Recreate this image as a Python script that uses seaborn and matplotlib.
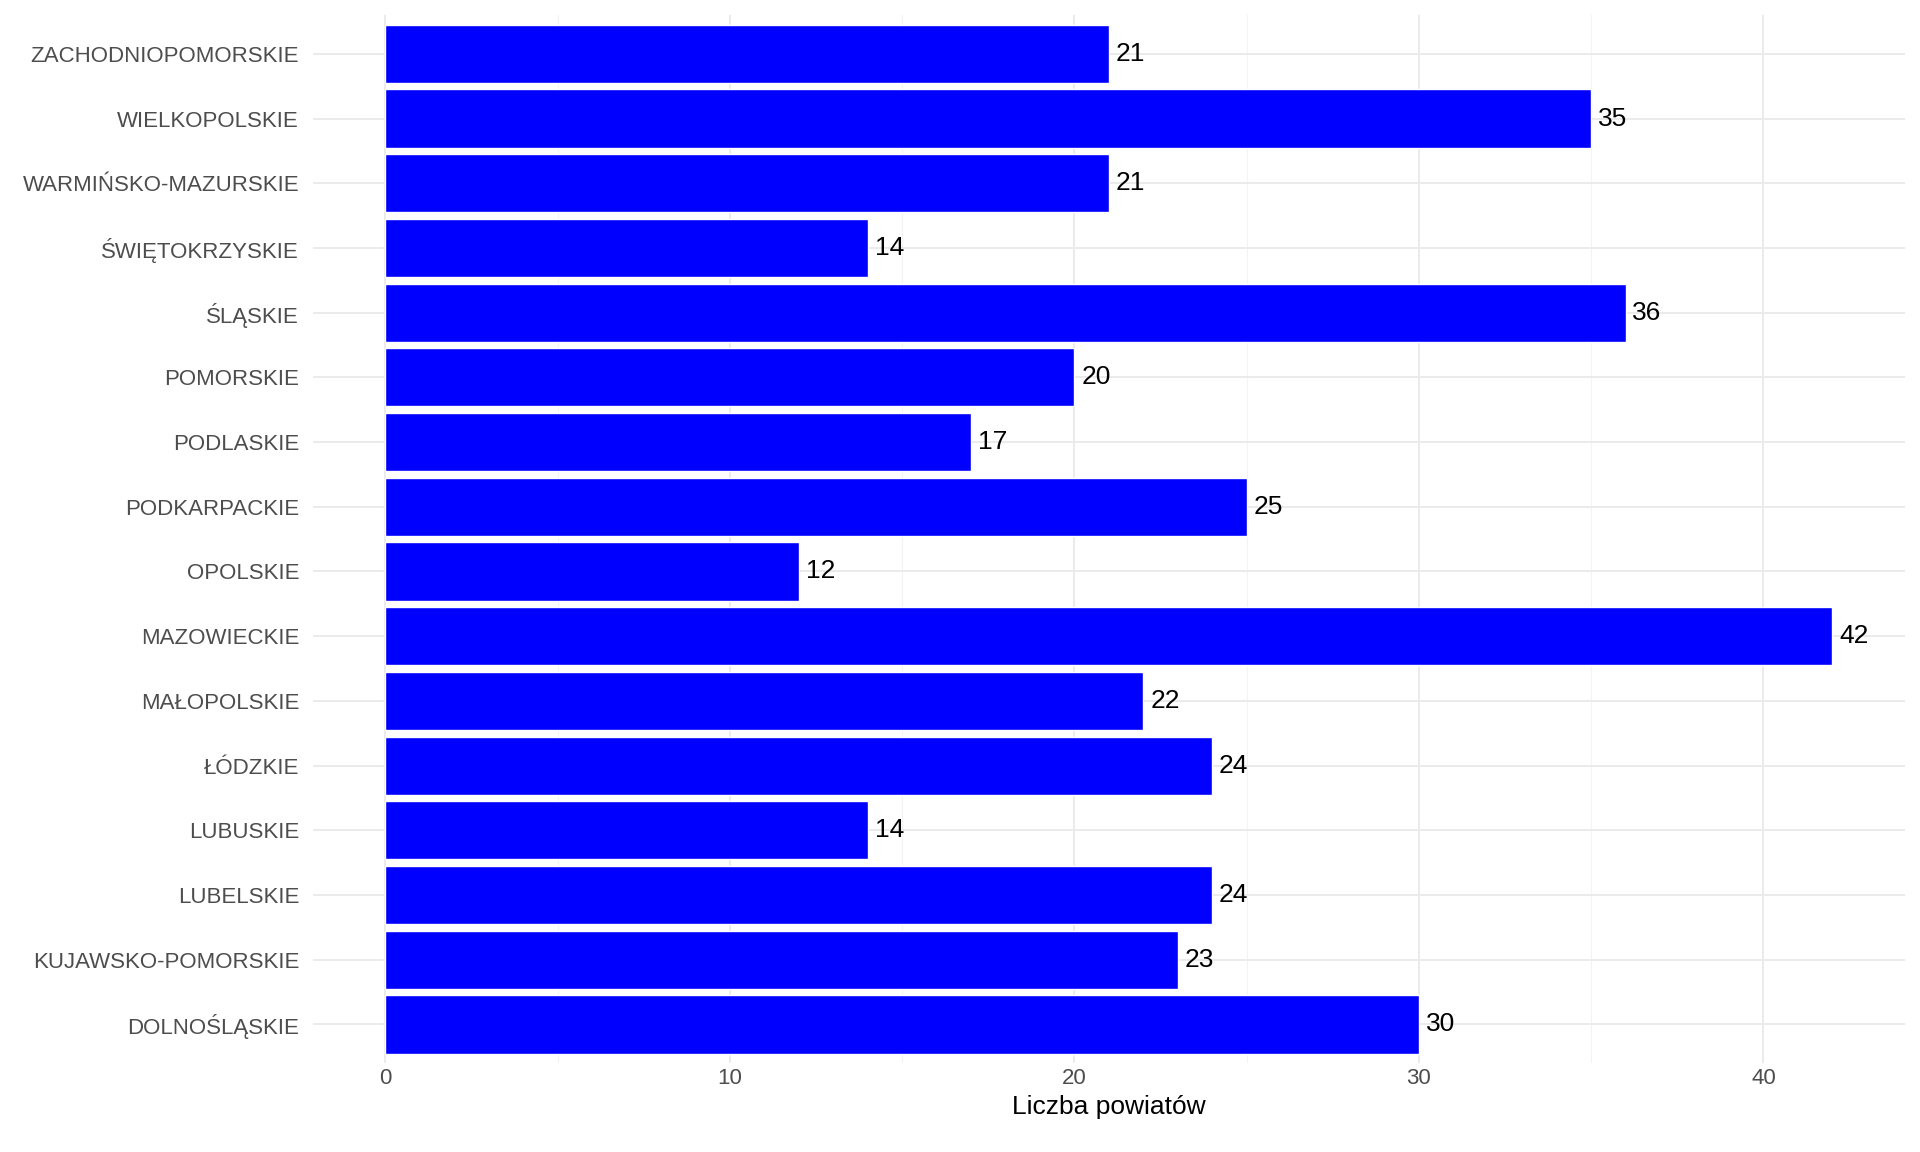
import matplotlib
matplotlib.use('Agg')
import matplotlib.pyplot as plt
import seaborn as sns
import pandas as pd

regions = ['ZACHODNIOPOMORSKIE', 'WIELKOPOLSKIE', 'WARMIŃSKO-MAZURSKIE', 'ŚWIĘTOKRZYSKIE',
           'ŚLĄSKIE', 'POMORSKIE', 'PODLASKIE', 'PODKARPACKIE', 'OPOLSKIE', 'MAZOWIECKIE',
           'MAŁOPOLSKIE', 'ŁÓDZKIE', 'LUBUSKIE', 'LUBELSKIE', 'KUJAWSKO-POMORSKIE', 'DOLNOŚLĄSKIE']
counts = [21, 35, 21, 14, 36, 20, 17, 25, 12, 42, 22, 24, 14, 24, 23, 30]
df = pd.DataFrame({'region': regions, 'n': counts})

sns.set_style('white')
plt.rcParams['font.family'] = ['Liberation Sans', 'DejaVu Sans']

fig = plt.figure(figsize=(19.2, 11.52), dpi=100)
ax = fig.add_axes([0.163, 0.077, 0.829, 0.91])
sns.barplot(data=df, x='n', y='region', orient='h', color='#0000FF', saturation=1,
            width=0.9, ax=ax, zorder=3)
for i, v in enumerate(counts):
    ax.text(v + 0.2, i, str(v), va='center', ha='left', fontsize=19, color='black', zorder=4)

ax.set_xlim(-2.1, 44.1)
ax.set_ylim(len(regions) - 0.4, -0.6)
ax.set_xticks([0, 10, 20, 30, 40])
ax.set_xticks([5, 15, 25, 35], minor=True)
ax.grid(axis='x', which='major', color='#EBEBEB', lw=1.4, zorder=0)
ax.grid(axis='x', which='minor', color='#F3F3F3', lw=0.8, zorder=0)
ax.grid(axis='y', which='major', color='#EBEBEB', lw=1.4, zorder=0)
for s in ax.spines.values():
    s.set_visible(False)
ax.tick_params(axis='both', which='both', length=0, labelsize=16, labelcolor='#4D4D4D')
ax.tick_params(axis='y', pad=10)
ax.set_ylabel('')
ax.set_xlabel('Liczba powiatów', fontsize=19, color='black')
fig.savefig('out.png', dpi=100)
